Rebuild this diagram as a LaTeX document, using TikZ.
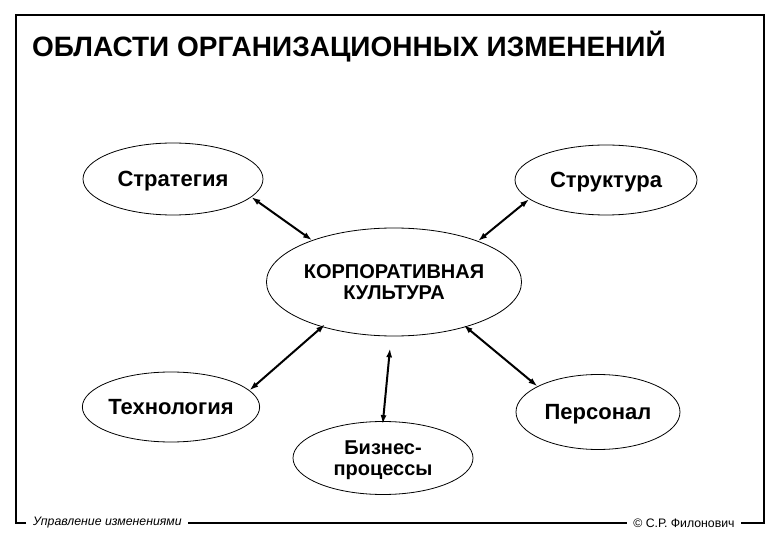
\documentclass[tikz,border=0pt]{standalone}
\usepackage{fontspec}
\setmainfont{Liberation Sans}
\usetikzlibrary{arrows.meta,shapes.geometric}
\begin{document}
\begin{tikzpicture}[x=1pt,y=-1pt,
  area/.style={ellipse,draw=black,line width=0.8pt,inner sep=0pt,align=center,text depth=0pt,font=\bfseries\fontsize{22}{22}\selectfont},
  conn/.style={line width=2pt,{Latex[length=9pt,width=6pt]}-{Latex[length=9pt,width=6pt]}},
  frame/.style={line width=2.6pt},
  foot/.style={inner sep=0pt,font=\fontsize{12.3}{12.3}\selectfont}]
\useasboundingbox (0,0) rectangle (780,540);
% frame
\draw[frame] (26,523) -- (16,523) -- (16,15) -- (764,15) -- (764,523) -- (741,523);
\draw[frame] (188,523) -- (627,523);
\node[foot,anchor=west] (fl) at (33,523) {\itshape Управление изменениями};
\node[foot] (fr) at (684,523) {© С.Р. Филонович};
% title
\node[anchor=west,inner sep=0pt,font=\bfseries\fontsize{28}{28}\selectfont] (title) at (32,47) {ОБЛАСТИ ОРГАНИЗАЦИОННЫХ ИЗМЕНЕНИЙ};
% ellipses
\node[area,minimum width=180pt,minimum height=72pt] (strat) at (173,179) {Стратегия};
\node[area,minimum width=182pt,minimum height=70pt] (struct) at (606,180) {Структура};
\node[area,minimum width=248pt,minimum height=108pt,font=\bfseries\fontsize{20}{21}\selectfont] (core) at (394,282) {КОРПОРАТИВНАЯ\\КУЛЬТУРА};
\node[area,minimum width=174pt,minimum height=70pt] (tech) at (171,407) {Технология};
\node[area,minimum width=164pt,minimum height=75pt] (pers) at (598,412) {Персонал};
\node[area,minimum width=180pt,minimum height=73pt,font=\bfseries\fontsize{20}{21}\selectfont] (biz) at (383,458) {Бизнес-\\процессы};
% connectors
\draw[conn] (strat.-13) -- (core.153);
\draw[conn] (struct.-166) -- (core.26);
\draw[conn,shorten <=-4pt] (core.-148) -- (tech.12);
\draw[conn,shorten <=-3pt] (core.-32) -- (pers.157);
\draw[conn,shorten <=12pt,shorten >=-3pt] (core.-93) -- (biz.90);
\end{tikzpicture}
\end{document}
